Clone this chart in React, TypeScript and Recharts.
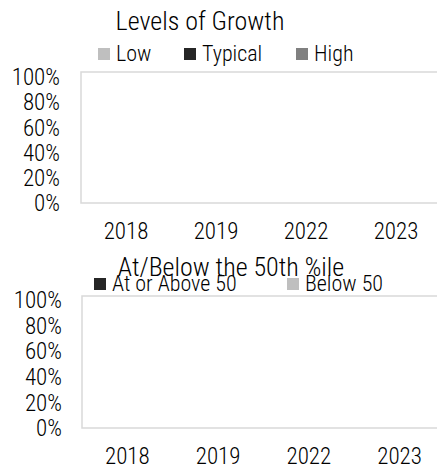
import React from 'react';
import { BarChart, Bar, XAxis, YAxis, ReferenceArea } from 'recharts';

const FONT = '"Roboto Condensed", "Liberation Sans Narrow", sans-serif';
const WEIGHT = 300;

// categories and tick labels
const years = ['2018', '2019', '2022', '2023'];
const percentTicks = [0, 0.2, 0.4, 0.6, 0.8, 1];

// Levels of Growth (no values shown in the source)
const lowValues = [0, 0, 0, 0];
const typicalValues = [0, 0, 0, 0];
const highValues = [0, 0, 0, 0];

// At/Below the 50th %ile (no values shown in the source)
const aboveValues = [0, 0, 0, 0];
const belowValues = [0, 0, 0, 0];

const growthSeries = [
  { key: 'low', name: 'Low', color: '#bfbfbf' },
  { key: 'typical', name: 'Typical', color: '#262626' },
  { key: 'high', name: 'High', color: '#808080' },
];

const fiftySeries = [
  { key: 'above', name: 'At or Above 50', color: '#262626' },
  { key: 'below', name: 'Below 50', color: '#bfbfbf' },
];

const growthData = years.map((year, i) => ({
  year,
  low: lowValues[i],
  typical: typicalValues[i],
  high: highValues[i],
}));

const fiftyData = years.map((year, i) => ({
  year,
  above: aboveValues[i],
  below: belowValues[i],
}));

const pct = (v: number) => `${Math.round(v * 100)}%`;

// legend items placed at fixed x offsets like the Excel original
const LegendRow = ({ items, top, lefts, size }: { items: { name: string; color: string }[]; top: number; lefts: number[]; size: number }) => (
  <>
    {items.map((item, i) => (
      <div key={item.name} style={{ position: 'absolute', top, left: lefts[i], display: 'flex', alignItems: 'center', whiteSpace: 'nowrap', fontFamily: FONT, fontWeight: WEIGHT, fontSize: size, lineHeight: 1, color: '#000' }}>
        <span style={{ width: 12, height: 12, background: item.color, marginRight: 6, display: 'inline-block' }} />
        <span>{item.name}</span>
      </div>
    ))}
  </>
);

const Title = ({ text, top, center, size }: { text: string; top: number; center: number; size: number }) => (
  <div style={{ position: 'absolute', top, left: center - 200, width: 400, textAlign: 'center', fontFamily: FONT, fontWeight: WEIGHT, fontSize: size, lineHeight: 1, color: '#000' }}>
    {text}
  </div>
);

const tickStyle = { fontSize: 23, fill: '#000', fontFamily: FONT, fontWeight: WEIGHT };

export default function App() {
  return (
    <div style={{ position: 'absolute', left: 0, top: 0, width: 437, height: 465, overflow: 'hidden', background: '#fff' }}>
      {/* Levels of Growth */}
      <div style={{ position: 'absolute', left: 0, top: 0 }}>
        <BarChart width={445} height={250} data={growthData} margin={{ top: 72, right: 4, left: 0, bottom: 17 }}>
          <XAxis dataKey="year" interval={0} axisLine={false} tickLine={false} tickSize={0} tickMargin={20} height={30} tick={tickStyle} />
          <YAxis domain={[0, 1.04]} ticks={percentTicks} interval={0} tickFormatter={pct} axisLine={false} tickLine={false} tickSize={0} tickMargin={21} width={81} tick={tickStyle} />
          <ReferenceArea y1={0} y2={1.04} stroke="#d9d9d9" strokeWidth={1.5} fill="none" />
          {growthSeries.map(s => (
            <Bar key={s.key} dataKey={s.key} name={s.name} stackId="g" fill={s.color} isAnimationActive={false} />
          ))}
        </BarChart>
      </div>
      <Title text="Levels of Growth" top={8} center={200} size={26} />
      <LegendRow items={growthSeries} top={43} lefts={[98, 184, 296]} size={22} />

      {/* At/Below the 50th %ile */}
      <div style={{ position: 'absolute', left: 0, top: 240 }}>
        <BarChart width={449} height={225} data={fiftyData} margin={{ top: 56, right: 4, left: 0, bottom: 7 }}>
          <XAxis dataKey="year" interval={0} axisLine={false} tickLine={false} tickSize={0} tickMargin={20} height={30} tick={tickStyle} />
          <YAxis domain={[0, 1.03]} ticks={percentTicks} interval={0} tickFormatter={pct} axisLine={false} tickLine={false} tickSize={0} tickMargin={20} width={82} tick={tickStyle} />
          <ReferenceArea y1={0} y2={1.03} stroke="#d9d9d9" strokeWidth={1.5} fill="none" />
          {fiftySeries.map(s => (
            <Bar key={s.key} dataKey={s.key} name={s.name} stackId="f" fill={s.color} isAnimationActive={false} />
          ))}
        </BarChart>
      </div>
      <Title text="At/Below the 50th %ile" top={254} center={231} size={26} />
      <LegendRow items={fiftySeries} top={273} lefts={[94, 287]} size={22} />
    </div>
  );
}
